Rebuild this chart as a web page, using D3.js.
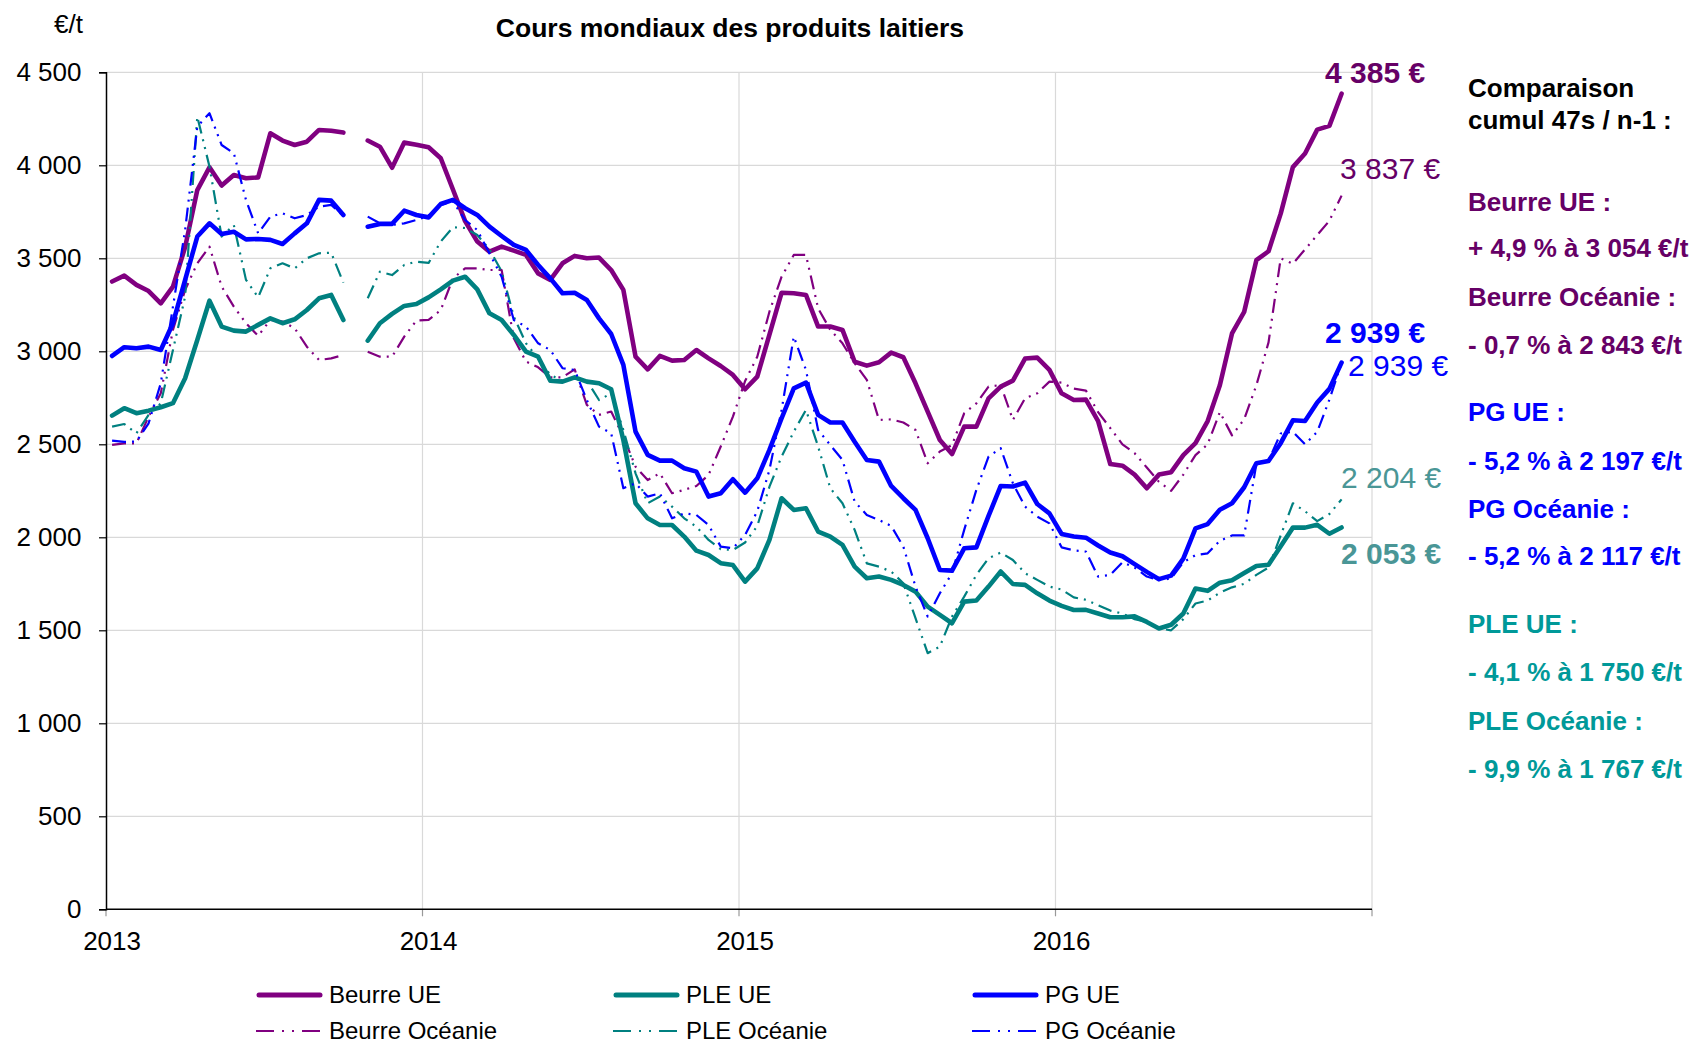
<!DOCTYPE html>
<html>
<head>
<meta charset="utf-8">
<script src="https://cdn.jsdelivr.net/npm/d3@7"></script>
<style>
  body { margin: 0; background: #fff; }
  svg { display: block; }
  text { font-family: "Liberation Sans", Arial, sans-serif; }
</style>
</head>
<body>
<svg id="chart" width="1699" height="1043"></svg>
<script>
// categories : 26 two-week periods per year, 2013 -> 2016
var years = ["2013", "2014", "2015", "2016"];
var periods = d3.range(1, 27);
var categories = d3.cross(years, periods).map(function(d) { return d[0] + "-" + d[1]; });

// prices in EUR/t, one value per period (null = no quotation)
var beurreUE = [3375, 3407, 3357, 3324, 3258, 3348, 3560, 3867, 3989, 3891, 3948, 3930, 3935, 4172, 4133, 4109, 4127, 4190, 4186, 4176, null, 4133, 4100, 3987, 4122, 4111,
  4097, 4038, 3870, 3700, 3590, 3536, 3563, 3541, 3518, 3419, 3384, 3473, 3513, 3500, 3504, 3437, 3330, 2971, 2903, 2975, 2950, 2953, 3007, 2962, 2921, 2873,
  2796, 2864, 3090, 3315, 3312, 3303, 3133, 3133, 3115, 2944, 2923, 2941, 2993, 2968, 2828, 2676, 2523, 2448, 2595, 2595, 2747, 2810, 2842, 2961, 2966, 2900,
  2774, 2738, 2740, 2625, 2394, 2385, 2337, 2264, 2337, 2350, 2442, 2506, 2625, 2817, 3096, 3212, 3490, 3538, 3740, 3990, 4063, 4192, 4212, 4385];

var beurreOceanie = [2497, 2505, 2505, 2649, 2774, 3115, 3330, 3473, 3563, 3348, 3240, 3151, 3083, 3169, 3160, 3124, 3025, 2953, 2962, 2980, null, 2998, 2971, 2971, 3079, 3165,
  3169, 3222, 3392, 3446, 3446, 3437, 3437, 3070, 2945, 2914, 2860, 2860, 2903, 2712, 2658, 2676, 2541, 2380, 2308, 2344, 2237, 2255, 2276, 2335, 2488, 2649,
  2840, 2971, 3213, 3401, 3518, 3518, 3231, 3115, 3043, 2936, 2846, 2631, 2634, 2617, 2577, 2398, 2461, 2496, 2667, 2720, 2810, 2819, 2631, 2747, 2774, 2837,
  2832, 2799, 2789, 2673, 2587, 2500, 2452, 2375, 2298, 2250, 2337, 2442, 2500, 2673, 2548, 2635, 2817, 3048, 3500, 3471, 3548, 3625, 3702, 3837];

var pleUE = [2654, 2694, 2667, 2681, 2699, 2721, 2855, 3061, 3272, 3133, 3111, 3106, 3142, 3177, 3151, 3172, 3222, 3285, 3303, 3168, null, 3057, 3151, 3201, 3244, 3254,
  3290, 3333, 3380, 3401, 3333, 3204, 3168, 3088, 2998, 2971, 2842, 2837, 2860, 2837, 2828, 2796, 2523, 2183, 2102, 2066, 2066, 2004, 1928, 1905, 1861, 1851,
  1762, 1833, 1986, 2210, 2147, 2156, 2031, 2004, 1959, 1842, 1780, 1789, 1771, 1744, 1708, 1627, 1583, 1538, 1654, 1660, 1735, 1816, 1749, 1744, 1699, 1660,
  1631, 1609, 1610, 1590, 1570, 1570, 1575, 1545, 1510, 1530, 1590, 1725, 1712, 1756, 1769, 1808, 1846, 1852, 1952, 2052, 2052, 2067, 2019, 2053];

var pleOceanie = [2595, 2609, 2559, 2658, 2720, 3007, 3294, 4262, 3993, 3617, 3679, 3384, 3290, 3446, 3473, 3446, 3500, 3527, 3530, 3369, null, 3285, 3428, 3410, 3464, 3482,
  3475, 3590, 3667, 3663, 3625, 3548, 3430, 3186, 3043, 2962, 2873, 2842, 2855, 2842, 2738, 2774, 2577, 2344, 2183, 2219, 2165, 2102, 2057, 1986, 1936, 1932,
  1972, 2060, 2272, 2434, 2568, 2685, 2488, 2264, 2183, 2040, 1860, 1842, 1816, 1753, 1565, 1377, 1412, 1574, 1681, 1798, 1887, 1918, 1878, 1807, 1771, 1735,
  1719, 1677, 1664, 1635, 1606, 1590, 1560, 1545, 1510, 1500, 1560, 1644, 1660, 1702, 1731, 1750, 1798, 1837, 2010, 2183, 2140, 2087, 2125, 2204];

var pgUE = [2975, 3022, 3016, 3025, 3007, 3151, 3384, 3617, 3688, 3631, 3643, 3602, 3604, 3599, 3577, 3634, 3688, 3814, 3810, 3733, null, 3670, 3685, 3685, 3756, 3733,
  3720, 3792, 3814, 3769, 3733, 3670, 3620, 3572, 3545, 3464, 3392, 3312, 3315, 3276, 3177, 3093, 2927, 2568, 2443, 2412, 2412, 2371, 2353, 2219, 2237, 2312,
  2240, 2317, 2470, 2640, 2801, 2832, 2658, 2617, 2617, 2514, 2416, 2407, 2276, 2210, 2147, 1995, 1824, 1821, 1941, 1946, 2115, 2276, 2273, 2294, 2179, 2129,
  2018, 2004, 1998, 1956, 1918, 1898, 1856, 1814, 1775, 1794, 1885, 2048, 2071, 2148, 2183, 2269, 2398, 2410, 2506, 2629, 2625, 2725, 2798, 2939];

var pgOceanie = [2520, 2513, 2515, 2613, 2828, 3240, 3652, 4208, 4280, 4109, 4065, 3814, 3634, 3724, 3742, 3715, 3733, 3778, 3787, 3728, null, 3724, 3688, 3679, 3688, 3706,
  3728, 3787, 3805, 3706, 3652, 3527, 3401, 3168, 3133, 3043, 3007, 2909, 2900, 2738, 2595, 2559, 2264, 2290, 2219, 2237, 2102, 2129, 2120, 2066, 1950, 1941,
  2013, 2140, 2362, 2685, 3079, 2900, 2577, 2496, 2416, 2192, 2120, 2093, 2061, 1950, 1735, 1574, 1699, 1807, 2040, 2255, 2434, 2479, 2290, 2165, 2111, 2075,
  1946, 1930, 1923, 1789, 1798, 1866, 1837, 1789, 1769, 1779, 1866, 1904, 1914, 1981, 2010, 2010, 2394, 2413, 2558, 2567, 2500, 2567, 2740, 2939];

var yTicks = [0, 500, 1000, 1500, 2000, 2500, 3000, 3500, 4000, 4500];

var endLabels = ["4 385 €", "3 837 €", "2 939 €", "2 939 €", "2 204 €", "2 053 €"];

var comparison = [
  ["Comparaison", "#000"], ["cumul 47s / n-1 :", "#000"],
  ["Beurre UE :", "#660066"], ["+ 4,9 % à 3 054 €/t", "#660066"],
  ["Beurre Océanie :", "#660066"], ["- 0,7 % à 2 843 €/t", "#660066"],
  ["PG UE :", "#0000ff"], ["- 5,2 % à 2 197 €/t", "#0000ff"],
  ["PG Océanie :", "#0000ff"], ["- 5,2 % à 2 117 €/t", "#0000ff"],
  ["PLE UE :", "#009999"], ["- 4,1 % à 1 750 €/t", "#009999"],
  ["PLE Océanie :", "#009999"], ["- 9,9 % à 1 767 €/t", "#009999"]
];

var purple = "#800080", teal = "#008080", blue = "#0000ff";
var series = [
  {name: "Beurre UE", values: beurreUE, color: purple, thick: true},
  {name: "Beurre Océanie", values: beurreOceanie, color: purple, thick: false},
  {name: "PLE UE", values: pleUE, color: teal, thick: true},
  {name: "PLE Océanie", values: pleOceanie, color: teal, thick: false},
  {name: "PG UE", values: pgUE, color: blue, thick: true},
  {name: "PG Océanie", values: pgOceanie, color: blue, thick: false}
];

var plotL = 106, plotR = 1372, plotT = 72.3, plotB = 909.3;
var svg = d3.select("#chart");
svg.append("rect").attr("width", 1699).attr("height", 1043).attr("fill", "#fff");

var x = d3.scaleBand().domain(categories).range([plotL, plotR]);
var y = d3.scaleLinear().domain([0, 4500]).range([plotB, plotT]);
var fr = d3.formatLocale({decimal: ",", thousands: " ", grouping: [3], currency: ["", " €"]});
var fmt = fr.format(",d");

// horizontal grid
svg.append("g").selectAll("line").data(yTicks.slice(1)).enter().append("line")
  .attr("x1", plotL).attr("x2", plotR)
  .attr("y1", function(d) { return y(d); }).attr("y2", function(d) { return y(d); })
  .attr("stroke", "#d9d9d9").attr("stroke-width", 1.2);

// vertical grid on year boundaries
var yearStarts = years.map(function(yr) { return x(yr + "-1"); }).concat([plotR]);
svg.append("g").selectAll("line").data(yearStarts.slice(1)).enter().append("line")
  .attr("x1", function(d) { return d; }).attr("x2", function(d) { return d; })
  .attr("y1", plotT).attr("y2", plotB)
  .attr("stroke", "#d9d9d9").attr("stroke-width", 1.2);

// small ticks under x axis
svg.append("g").selectAll("line").data(yearStarts).enter().append("line")
  .attr("x1", function(d) { return d; }).attr("x2", function(d) { return d; })
  .attr("y1", plotB).attr("y2", plotB + 7)
  .attr("stroke", "#999").attr("stroke-width", 1.2);

// y axis
var yAxis = svg.append("g")
  .attr("transform", "translate(" + plotL + ",0)")
  .call(d3.axisLeft(y).tickValues(yTicks).tickFormat(fmt).tickSize(7).tickPadding(17.5));
yAxis.select(".domain").attr("stroke", "#000").attr("stroke-width", 1.5);
yAxis.selectAll(".tick line").attr("stroke", "#000").attr("stroke-width", 1.2);
yAxis.selectAll("text").attr("font-size", 26).attr("fill", "#000")
  .style("font-family", "'Liberation Sans', Arial, sans-serif");

// x axis labels, first period of each year
var xAxis = svg.append("g")
  .attr("transform", "translate(0," + plotB + ")")
  .call(d3.axisBottom(x).tickValues(years.map(function(yr) { return yr + "-1"; }))
    .tickFormat(function(d) { return d.split("-")[0]; }).tickSize(0).tickPadding(22.5));
xAxis.select(".domain").remove();
xAxis.selectAll("text").attr("font-size", 26).attr("fill", "#000")
  .style("font-family", "'Liberation Sans', Arial, sans-serif");
svg.append("line").attr("x1", plotL).attr("x2", plotR).attr("y1", plotB).attr("y2", plotB)
  .attr("stroke", "#000").attr("stroke-width", 1.5);

// lines
var line = d3.line()
  .defined(function(d) { return d.v != null; })
  .x(function(d) { return x(d.c) + x.bandwidth() / 2; })
  .y(function(d) { return y(d.v); });

series.forEach(function(s) {
  var pts = s.values.map(function(v, i) { return {c: categories[i], v: v}; });
  svg.append("path")
    .datum(pts)
    .attr("d", line)
    .attr("fill", "none")
    .attr("stroke", s.color)
    .attr("stroke-width", s.thick ? 4.6 : 2.2)
    .attr("stroke-linejoin", "round")
    .attr("stroke-linecap", s.thick ? "round" : "butt")
    .attr("stroke-dasharray", s.thick ? null : "14,6,2,6,2,6");
});

// title and unit
svg.append("text").attr("x", 730).attr("y", 37).attr("text-anchor", "middle")
  .attr("font-size", 26.5).attr("font-weight", "bold").text("Cours mondiaux des produits laitiers");
svg.append("text").attr("x", 54).attr("y", 33).attr("font-size", 26).text("€/t");

// labels at the end of the curves
var endPos = [
  {x: 1325, cy: 72.5, bold: true, color: "#660066"},
  {x: 1340, cy: 168, bold: false, color: "#660066"},
  {x: 1325, cy: 332.5, bold: true, color: "#0000ff"},
  {x: 1348, cy: 365, bold: false, color: "#0000ff"},
  {x: 1341, cy: 477.5, bold: false, color: "#4a9696"},
  {x: 1341, cy: 553, bold: true, color: "#4a9696"}
];
endLabels.forEach(function(t, i) {
  var p = endPos[i];
  svg.append("text").attr("x", p.x).attr("y", p.cy + 10.5)
    .attr("font-size", 30).attr("font-weight", p.bold ? "bold" : "normal")
    .attr("fill", p.color).text(t);
});

// comparison block on the right
var compY = [88, 120, 201.5, 248, 297, 345, 412, 461, 509, 556, 624, 672, 721, 769];
comparison.forEach(function(c, i) {
  svg.append("text").attr("x", 1468).attr("y", compY[i] + 9)
    .attr("font-size", 26).attr("font-weight", "bold").attr("fill", c[1]).text(c[0]);
});

// legend
var legendCols = [256, 613, 972];
var legendRows = [995, 1031];
var legendOrder = [0, 2, 4, 1, 3, 5];
legendOrder.forEach(function(si, k) {
  var s = series[si];
  var lx = legendCols[k % 3], ly = legendRows[Math.floor(k / 3)];
  svg.append("line").attr("x1", lx + (s.thick ? 3 : 0)).attr("x2", lx + 64)
    .attr("y1", ly).attr("y2", ly)
    .attr("stroke", s.color).attr("stroke-width", s.thick ? 5 : 2)
    .attr("stroke-linecap", s.thick ? "round" : "butt")
    .attr("stroke-dasharray", s.thick ? null : "18,8,2,8,2,8");
  svg.append("text").attr("x", lx + 73).attr("y", ly + 8)
    .attr("font-size", 24).attr("fill", "#000").text(s.name);
});
</script>
</body>
</html>
